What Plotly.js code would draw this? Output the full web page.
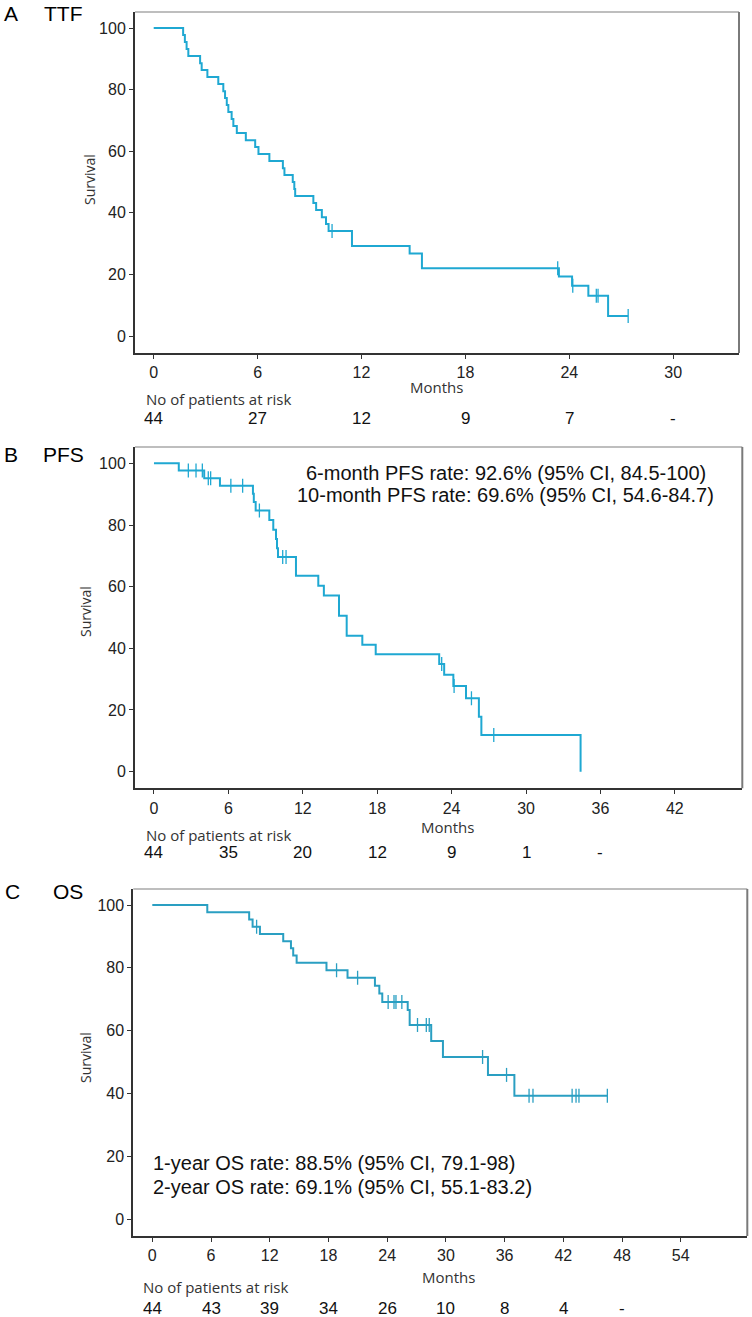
<!DOCTYPE html>
<html>
<head>
<meta charset="utf-8">
<script src="https://cdn.plot.ly/plotly-3.0.1.min.js"></script>
<style>html,body{margin:0;padding:0;background:#fff;}#chart{width:752px;height:1317px;}</style>
</head>
<body>
<div id="chart"></div>
<script>
// ---- Panel A: TTF ----
const ttfTime  = [0, 1.7, 1.8, 1.9, 2.0, 2.68, 2.77, 3.1, 3.73, 4.02, 4.12, 4.22, 4.31, 4.5, 4.6, 4.8, 5.32, 5.86, 6.05, 6.68, 7.46, 7.55, 8.03, 8.12, 8.17, 9.22, 9.38, 9.71, 9.95, 10.1, 11.45, 14.78, 15.49, 23.4, 24.16, 25.1, 26.24, 27.4];
const ttfSurv  = [100, 97.7, 95.5, 93.2, 90.9, 88.6, 86.4, 84.1, 81.8, 79.5, 77.3, 75.0, 72.7, 70.5, 68.2, 65.9, 63.6, 61.4, 59.1, 56.8, 54.5, 52.3, 50.0, 47.7, 45.5, 43.2, 40.9, 38.6, 36.4, 34.1, 29.2, 26.8, 22.0, 19.3, 16.3, 13.1, 6.5, 6.5];
const ttfCensTime = [10.3, 23.33, 24.2, 25.56, 25.66, 27.4];
const ttfCensSurv = [34.1, 22.0, 16.3, 13.1, 13.1, 6.5];
const ttfRiskMonths = [0, 6, 12, 18, 24, 30];
const ttfRisk = ["44", "27", "12", "9", "7", "-"];

// ---- Panel B: PFS ----
const pfsTime = [0, 2.0, 4.05, 5.32, 7.98, 8.05, 8.2, 9.3, 9.62, 9.84, 9.92, 10.0, 11.45, 13.25, 13.7, 14.92, 15.54, 16.8, 17.88, 23.0, 23.4, 24.14, 25.16, 26.2, 26.4, 34.4];
const pfsSurv = [100, 97.7, 95.2, 92.7, 90.1, 87.5, 84.7, 81.6, 78.5, 75.5, 72.5, 69.6, 63.5, 60.3, 57.1, 50.6, 44.1, 41.2, 38.1, 34.9, 31.4, 27.8, 23.8, 17.8, 11.9, 0];
const pfsCensTime = [2.77, 3.39, 3.9, 4.38, 4.57, 6.2, 7.15, 8.5, 10.38, 10.65, 23.2, 24.2, 25.6, 27.4];
const pfsCensSurv = [97.7, 97.7, 97.7, 95.2, 95.2, 92.7, 92.7, 84.7, 69.6, 69.6, 34.9, 27.8, 23.8, 11.9];
const pfsRiskMonths = [0, 6, 12, 18, 24, 30, 36];
const pfsRisk = ["44", "35", "20", "12", "9", "1", "-"];
const pfsNotes = ["6-month PFS rate: 92.6% (95% CI, 84.5-100)", "10-month PFS rate: 69.6% (95% CI, 54.6-84.7)"];

// ---- Panel C: OS ----
const osTime = [0, 5.62, 9.9, 10.25, 11.0, 13.38, 14.17, 14.4, 14.75, 17.8, 19.95, 22.75, 23.2, 23.5, 26.1, 26.3, 28.5, 29.7, 34.3, 37.0, 46.5];
const osSurv = [100, 97.7, 95.4, 93.1, 90.8, 88.5, 86.2, 83.9, 81.6, 79.2, 76.8, 74.3, 71.8, 69.1, 66.6, 61.8, 56.7, 51.6, 45.9, 39.3, 39.3];
const osCensTime = [10.66, 18.83, 20.98, 24.1, 24.7, 24.9, 25.5, 27.1, 28.0, 28.3, 33.75, 36.2, 38.5, 38.9, 42.9, 43.3, 43.6, 46.5];
const osCensSurv = [93.1, 79.2, 76.8, 69.1, 69.1, 69.1, 69.1, 61.8, 61.8, 61.8, 51.6, 45.9, 39.3, 39.3, 39.3, 39.3, 39.3, 39.3];
const osRiskMonths = [0, 6, 12, 18, 24, 30, 36, 42, 48];
const osRisk = ["44", "43", "39", "34", "26", "10", "8", "4", "-"];
const osNotes = ["1-year OS rate: 88.5% (95% CI, 79.1-98)", "2-year OS rate: 69.1% (95% CI, 55.1-83.2)"];

const yTicks = [0, 20, 40, 60, 80, 100];

const W = 752, H = 1317;
const px = v => v / W;
const py = v => 1 - v / H;

const colAB = '#1fa8d2';
const colC = '#2a9fc2';
const ARIAL = 'Liberation Sans, Arial, sans-serif';
const SANS = 'Open Sans, Noto Sans, sans-serif';

function curve(t, s, xa, ya, col) {
  return {x: t, y: s, xaxis: xa, yaxis: ya, type: 'scatter', mode: 'lines',
          line: {shape: 'hv', color: col, width: 2}, hoverinfo: 'skip', showlegend: false};
}
function cens(t, s, xa, ya, col) {
  return {x: t, y: s, xaxis: xa, yaxis: ya, type: 'scatter', mode: 'markers',
          marker: {symbol: 'line-ns', size: 10, line: {color: col, width: 1.3}},
          hoverinfo: 'skip', showlegend: false};
}

const data = [
  curve(ttfTime, ttfSurv, 'x', 'y', colAB), cens(ttfCensTime, ttfCensSurv, 'x', 'y', colAB),
  curve(pfsTime, pfsSurv, 'x2', 'y2', colAB), cens(pfsCensTime, pfsCensSurv, 'x2', 'y2', colAB),
  curve(osTime, osSurv, 'x3', 'y3', colC), cens(osCensTime, osCensSurv, 'x3', 'y3', colC)
];

function xax(dom, range, tv, anchor) {
  return {domain: dom, range: range, anchor: anchor, tickvals: tv, ticktext: tv.map(String),
          showline: true, linecolor: '#333', linewidth: 2, ticks: 'outside', ticklen: 4,
          tickcolor: '#333', tickwidth: 1, showgrid: false, zeroline: false,
          tickfont: {family: ARIAL, size: 16, color: '#222'}};
}
function yax(dom, range, anchor) {
  return {domain: dom, range: range, anchor: anchor, tickvals: yTicks, ticktext: yTicks.map(String),
          showline: true, linecolor: '#333', linewidth: 2, ticks: 'outside', ticklen: 4,
          tickcolor: '#333', tickwidth: 1, showgrid: false, zeroline: false,
          tickfont: {family: ARIAL, size: 16, color: '#222'}};
}

const layout = {
  width: W, height: H, margin: {l: 0, r: 0, t: 0, b: 0},
  paper_bgcolor: '#fff', plot_bgcolor: '#fff', showlegend: false,
  xaxis:  xax([px(135), px(739)], [-1.08, 33.8], [0, 6, 12, 18, 24, 30], 'y'),
  yaxis:  yax([py(353), py(12)], [-5.5, 105.2], 'x'),
  xaxis2: xax([px(135), px(742.3)], [-1.53, 47.44], [0, 6, 12, 18, 24, 30, 36, 42], 'y2'),
  yaxis2: yax([py(788.3), py(447)], [-5.4, 105.3], 'x2'),
  xaxis3: xax([px(133.3), px(747.3)], [-1.94, 60.8], [0, 6, 12, 18, 24, 30, 36, 42, 48, 54], 'y3'),
  yaxis3: yax([py(1236), py(889)], [-5.4, 105.1], 'x3'),
  shapes: [],
  annotations: []
};

// top and right frame lines (lighter)
[['x', 'y'], ['x2', 'y2'], ['x3', 'y3']].forEach(([xa, ya]) => {
  layout.shapes.push({type: 'line', xref: xa + ' domain', yref: ya + ' domain', x0: 0, x1: 1, y0: 1, y1: 1,
                      line: {color: '#a8a8a8', width: 1.5}});
  layout.shapes.push({type: 'line', xref: xa + ' domain', yref: ya + ' domain', x0: 1, x1: 1, y0: 0, y1: 1,
                      line: {color: '#7a7a7a', width: 2}});
});

const A = layout.annotations;
function txt(text, x, y, opts) {
  A.push(Object.assign({text: text, x: px(x), y: py(y), xref: 'paper', yref: 'paper', showarrow: false,
                        xanchor: 'left', yanchor: 'middle', font: {family: ARIAL, size: 16, color: '#111'}}, opts || {}));
}
// Panel labels
txt('A', 2, 13, {font: {family: ARIAL, size: 21, color: '#000'}});
txt('TTF', 42, 13, {font: {family: ARIAL, size: 21, color: '#000'}});
txt('B', 2, 454, {font: {family: ARIAL, size: 21, color: '#000'}});
txt('PFS', 41, 454, {font: {family: ARIAL, size: 21, color: '#000'}});
txt('C', 3, 891, {font: {family: ARIAL, size: 21, color: '#000'}});
txt('OS', 51, 891, {font: {family: ARIAL, size: 21, color: '#000'}});

// Survival titles
[[90, 180], [85, 612], [85, 1058]].forEach(([x, y]) => {
  txt('Survival', x, y, {xanchor: 'center', textangle: -90, font: {family: SANS, size: 14, color: '#333'}});
});
// Months titles
[[436, 387], [447, 827], [448, 1277]].forEach(([x, y]) => {
  txt('Months', x, y, {xanchor: 'center', font: {family: SANS, size: 15, color: '#333'}});
});
// No of patients at risk
[[144, 399], [144, 835], [141, 1287]].forEach(([x, y]) => {
  txt('No of patients at risk', x, y, {font: {family: SANS, size: 15, color: '#333'}});
});
// Risk numbers (placed on the months scale)
function risk(months, vals, xa, y) {
  months.forEach((m, i) => {
    A.push({text: vals[i], x: m, y: py(y), xref: xa, yref: 'paper', showarrow: false,
            xanchor: 'center', yanchor: 'middle', font: {family: ARIAL, size: 17, color: '#111'}});
  });
}
risk(ttfRiskMonths, ttfRisk, 'x', 418);
risk(pfsRiskMonths, pfsRisk, 'x2', 853);
risk(osRiskMonths, osRisk, 'x3', 1308);

// Rate notes
txt(pfsNotes[0], 506, 473, {xanchor: 'center', font: {family: ARIAL, size: 20, color: '#111'}});
txt(pfsNotes[1], 505, 495, {xanchor: 'center', font: {family: ARIAL, size: 20, color: '#111'}});
txt(osNotes[0], 151, 1163, {font: {family: ARIAL, size: 20, color: '#111'}});
txt(osNotes[1], 151, 1187, {font: {family: ARIAL, size: 20, color: '#111'}});

Plotly.newPlot('chart', data, layout, {staticPlot: true, displayModeBar: false});
</script>
</body>
</html>
